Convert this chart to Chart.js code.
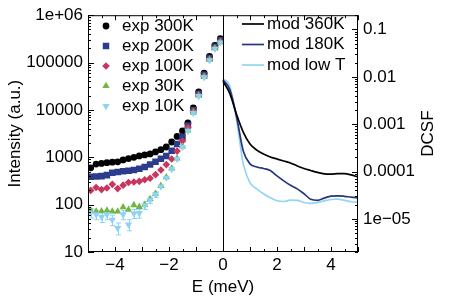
<!DOCTYPE html>
<html><head><meta charset="utf-8">
<script src="https://cdn.jsdelivr.net/npm/chart.js@4/dist/chart.umd.min.js"></script>
<style>html,body{margin:0;padding:0;background:#fff;}#wrap{width:463px;height:304px;}</style>
</head><body><div id="wrap"><canvas id="c" width="463" height="304"></canvas></div>
<script>
// ---- data ----
const energyExp = [-4.9,-4.7,-4.5,-4.3,-4.1,-3.9,-3.7,-3.5,-3.3,-3.1,-2.9,-2.7,-2.5,-2.3,-2.1,-1.9,-1.7,-1.5,-1.3,-1.1,-0.9,-0.7,-0.5,-0.3,-0.1];
const exp300K = [600,720,740,770,790,800,880,940,1000,1070,1120,1180,1300,1450,1650,2100,2750,3600,5300,11000,24000,60000,135000,230000,320000];
const exp200K = [390,395,400,420,470,490,505,520,540,570,620,700,800,930,1070,1380,1900,2700,4700,10000,22000,55000,125000,215000,295000];
const exp100K = [200,230,208,225,268,218,258,294,300,310,335,360,430,540,700,920,1350,2200,4300,9500,21000,52000,118000,205000,280000];
const exp30K  = [76,72,73,75,72,72,88,78,98,90,100,130,170,250,380,580,950,1700,3700,8800,20000,50000,115000,200000,270000];
const exp10K  = [67,62,55,62,48,32,62,38,65,66,97,125,165,240,370,560,920,1650,3600,8600,19500,49000,112000,195000,265000];
const err10K  = [15,14,13,14,12,9,14,10,14,14,18,20,22,0,0,0,0,0,0,0,0,0,0,0,0];

const energyMod = [0,0.25,0.5,0.75,1,1.25,1.5,1.75,2,2.25,2.5,2.75,3,3.25,3.5,3.75,4,4.25,4.5,4.75,5];
const mod360K = [0.0080,0.00448,0.00162,0.000679,0.00038,0.000284,0.000234,0.000203,0.000184,0.000167,0.000152,0.000131,0.000116,0.000105,0.0000957,0.0000891,0.0000878,0.0000903,0.0000903,0.000085,0.0000771];
const mod180K = [0.00869,0.00543,0.00147,0.000271,0.000145,0.000125,0.000116,0.000105,0.0000809,0.0000635,0.0000511,0.0000431,0.0000339,0.0000259,0.0000247,0.0000275,0.0000303,0.0000307,0.00003,0.0000288,0.0000279];
const modLowT = [0.00912,0.00628,0.00127,0.000145,0.0000577,0.0000431,0.0000339,0.0000279,0.0000241,0.0000233,0.0000249,0.0000247,0.0000222,0.0000212,0.0000222,0.0000241,0.0000257,0.0000262,0.0000247,0.000023,0.0000224];

const leftTicks = [10,100,1000,10000,100000,1000000];
const leftTickLabels = ['10','100','1000','10000','100000','1e+06'];
const rightTicks = [1e-5,1e-4,1e-3,1e-2,1e-1];
const rightTickLabels = ['1e\u221205','0.0001','0.001','0.01','0.1'];
const xTicks = [-4,-2,0,2,4];
const xTickLabels = ['\u22124','\u22122','0','2','4'];

// ---- build ----
const FONT = {family: '"Liberation Sans", Arial, Helvetica, sans-serif', size: 17};
const pts = (xs, ys) => xs.map((x, i) => ({x: x, y: ys[i]}));
const labelFor = (vals, labels) => (v) => {
  const i = vals.findIndex(t => Math.abs(Math.log10(t) - Math.log10(v)) < 1e-6);
  return i >= 0 ? labels[i] : '';
};

const expSets = [
  {label: 'exp 300K', data: pts(energyExp, exp300K), color: '#000000', pointStyle: 'circle', pointRadius: 3.4, rot: 0, order: 5},
  {label: 'exp 200K', data: pts(energyExp, exp200K), color: '#2b3c8c', pointStyle: 'rect', pointRadius: 4.6, rot: 0, order: 4},
  {label: 'exp 100K', data: pts(energyExp, exp100K), color: '#c8365f', pointStyle: 'rectRot', pointRadius: 3.8, rot: 0, order: 3},
  {label: 'exp 30K', data: pts(energyExp, exp30K), color: '#72b545', pointStyle: 'triangle', pointRadius: 4.2, rot: 0, order: 2},
  {label: 'exp 10K', data: pts(energyExp, exp10K), color: '#8dd3f5', pointStyle: 'triangle', pointRadius: 4.2, rot: 180, order: 1, err: err10K}
].map(d => ({
  label: d.label, data: d.data, yAxisID: 'y', xAxisID: 'x', showLine: false, order: d.order,
  pointStyle: d.pointStyle, pointRadius: d.pointRadius, pointRotation: d.rot,
  backgroundColor: d.color, borderColor: d.color, pointBorderWidth: 0, pointHoverRadius: d.pointRadius,
  errors: d.err || null
}));

const modSets = [
  {label: 'mod 360K', data: pts(energyMod, mod360K), color: '#000000'},
  {label: 'mod 180K', data: pts(energyMod, mod180K), color: '#27367e'},
  {label: 'mod low T', data: pts(energyMod, modLowT), color: '#92d5f5'}
].map(d => ({
  label: d.label, data: d.data, yAxisID: 'y2', xAxisID: 'x', showLine: true, order: 0,
  borderColor: d.color, backgroundColor: d.color, borderWidth: 1.7, pointRadius: 0,
  tension: 0.4, cubicInterpolationMode: 'monotone', fill: false
}));

const decorations = {
  id: 'decorations',
  beforeDatasetsDraw(chart) {
    const {ctx, scales} = chart;
    ctx.save();
    chart.data.datasets.forEach(d => {
      if (!d.errors) return;
      ctx.strokeStyle = d.borderColor;
      ctx.lineWidth = 1;
      d.data.forEach((p, i) => {
        const e = d.errors[i];
        if (!e) return;
        const px = Math.round(scales.x.getPixelForValue(p.x)) + 0.5;
        const y1 = scales.y.getPixelForValue(p.y - e), y2 = scales.y.getPixelForValue(p.y + e);
        ctx.beginPath();
        ctx.moveTo(px, y1); ctx.lineTo(px, y2);
        ctx.moveTo(px - 2.5, y1); ctx.lineTo(px + 2.5, y1);
        ctx.moveTo(px - 2.5, y2); ctx.lineTo(px + 2.5, y2);
        ctx.stroke();
      });
    });
    ctx.restore();
  },
  afterDraw(chart) {
    const {ctx, chartArea: a, scales} = chart;
    const sx = scales.x, sy = scales.y, sy2 = scales.y2;
    ctx.save();
    ctx.strokeStyle = '#000';
    ctx.lineWidth = 1;
    const line = (x1, y1, x2, y2) => { ctx.beginPath(); ctx.moveTo(x1, y1); ctx.lineTo(x2, y2); ctx.stroke(); };
    const zx = Math.round(sx.getPixelForValue(0)) + 0.5;
    line(zx, a.top, zx, a.bottom);
    ctx.strokeRect(a.left + 0.5, a.top + 0.5, a.right - a.left - 1, a.bottom - a.top - 1);
    for (let e = 1; e <= 6; e++) for (let m = 1; m < 10; m++) {
      const v = m * Math.pow(10, e);
      if (v > 1e6 * 1.0001) continue;
      const p = Math.round(sy.getPixelForValue(v)) + 0.5;
      line(a.left, p, a.left + (m === 1 ? 6 : 3), p);
    }
    for (let e = -6; e <= -1; e++) for (let m = 1; m < 10; m++) {
      const v = m * Math.pow(10, e);
      if (v < 2e-6 * 0.999 || v > 0.2 * 1.0001) continue;
      const p = Math.round(sy2.getPixelForValue(v)) + 0.5;
      line(a.right, p, a.right - (m === 1 ? 6 : 3), p);
    }
    for (let k = -10; k <= 10; k++) {
      const p = Math.round(sx.getPixelForValue(k / 2)) + 0.5;
      const L = (k % 2 === 0) ? 5 : 3;
      line(p, a.bottom, p, a.bottom - L);
      line(p, a.top, p, a.top + L);
    }
    ctx.font = FONT.size + 'px ' + FONT.family;
    ctx.textBaseline = 'middle';
    ctx.textAlign = 'left';
    chart.data.datasets.filter(d => d.yAxisID === 'y').forEach((d, i) => {
      const yy = 26 + i * 20;
      ctx.fillStyle = d.backgroundColor;
      Chart.helpers.drawPoint(ctx, {pointStyle: d.pointStyle, radius: d.pointRadius, rotation: d.pointRotation, borderWidth: 0}, 106, yy);
      ctx.fillStyle = '#000';
      ctx.fillText(d.label, 122, yy);
    });
    chart.data.datasets.filter(d => d.yAxisID === 'y2').forEach((d, i) => {
      const yy = 24 + i * 20.5;
      ctx.strokeStyle = d.borderColor;
      ctx.lineWidth = 1.7;
      line(242, yy, 264, yy);
      ctx.fillStyle = '#000';
      ctx.fillText(d.label, 267, yy);
    });
    ctx.save();
    ctx.translate(428, (a.top + a.bottom) / 2);
    ctx.rotate(-Math.PI / 2);
    ctx.textAlign = 'center';
    ctx.fillStyle = '#000';
    ctx.fillText('DCSF', 0, 0);
    ctx.restore();
    ctx.restore();
  }
};

new Chart(document.getElementById('c'), {
  type: 'scatter',
  data: {datasets: [...expSets, ...modSets]},
  options: {
    responsive: false, animation: false, devicePixelRatio: 1,
    layout: {padding: {top: 14, left: 0, right: 0, bottom: 0}},
    plugins: {legend: {display: false}, tooltip: {enabled: false}},
    scales: {
      x: {
        type: 'linear', position: 'bottom', min: -5, max: 5,
        afterBuildTicks: s => { s.ticks = xTicks.map(v => ({value: v})); },
        afterFit: s => { s.height = 52; },
        ticks: {callback: v => { const i = xTicks.indexOf(v); return i >= 0 ? xTickLabels[i] : ''; }, font: FONT, color: '#000', padding: 3, maxRotation: 0, autoSkip: false},
        grid: {display: false, drawTicks: false}, border: {display: false},
        title: {display: true, text: 'E (meV)', font: FONT, color: '#000', padding: {top: 0, bottom: 6}}
      },
      y: {
        type: 'logarithmic', position: 'left', min: 10, max: 1e6,
        afterBuildTicks: s => { s.ticks = leftTicks.map(v => ({value: v})); },
        afterFit: s => { s.width = 88; },
        ticks: {callback: labelFor(leftTicks, leftTickLabels), font: FONT, color: '#000', padding: 5, autoSkip: false},
        grid: {display: false, drawTicks: false}, border: {display: false},
        title: {display: true, text: 'Intensity (a.u.)', font: FONT, color: '#000', padding: {top: 5, bottom: 0}}
      },
      y2: {
        type: 'logarithmic', position: 'right', min: 2e-6, max: 0.2,
        afterBuildTicks: s => { s.ticks = rightTicks.map(v => ({value: v})); },
        afterFit: s => { s.width = 105; },
        ticks: {callback: labelFor(rightTicks, rightTickLabels), font: FONT, color: '#000', padding: 5, autoSkip: false},
        grid: {display: false, drawTicks: false}, border: {display: false},
        title: {display: false}
      }
    }
  },
  plugins: [decorations]
});
</script>
</body></html>
